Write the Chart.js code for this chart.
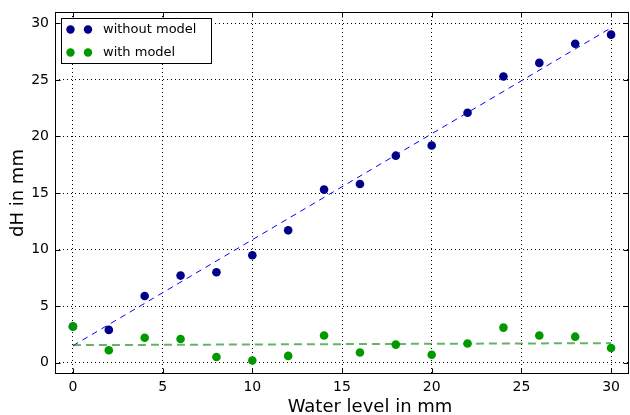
<!DOCTYPE html>
<html>
<head>
<meta charset="utf-8">
<script src="https://cdn.jsdelivr.net/npm/chart.js@4/dist/chart.umd.min.js"></script>
<style>
  html, body { margin: 0; padding: 0; background: #fff; }
  #wrap { width: 630px; height: 415px; }
</style>
</head>
<body>
<div id="wrap"><canvas id="c" width="630" height="415"></canvas></div>
<script>
// water level (mm)
var waterLevel = [0, 2, 4, 6, 8, 10, 12, 14, 16, 18, 20, 22, 24, 26, 28, 30];
// dH in mm
var withoutModel = [3.2, 2.9, 5.9, 7.7, 8.0, 9.5, 11.7, 15.3, 15.8, 18.3, 19.2, 22.1, 25.3, 26.5, 28.2, 29.0];
var withModel = [3.2, 1.1, 2.2, 2.1, 0.5, 0.2, 0.6, 2.4, 0.9, 1.6, 0.7, 1.7, 3.1, 2.4, 2.3, 1.3];
// fitted lines, read at the two ends
var fitX = [0, 30];
var fitWithout = [1.5, 29.6];
var fitWith = [1.55, 1.73];

var xTicks = [0, 5, 10, 15, 20, 25, 30];
var yTicks = [0, 5, 10, 15, 20, 25, 30];

var legendLabels = ['without model', 'with model'];
var xTitle = 'Water level in mm';

var navy = '#000088';
var green = '#009a00';

function pts(xs, ys){
	var out = [];
	for(var i=0;i<xs.length;i++){
		out.push({x:xs[i], y:ys[i]});
	}
	return out;
}

// frame, inward ticks, x title and the legend box
var framePlugin = {
	id:'frame',
	afterDatasetsDraw:function(chart){
		var ctx = chart.ctx, a = chart.chartArea;
		var xs = chart.scales.x, ys = chart.scales.y;
		var L = Math.round(a.left)+0.5, R = Math.round(a.right)-0.5;
		var T = Math.round(a.top)+0.5, B = Math.round(a.bottom)-0.5;
		ctx.save();
		ctx.strokeStyle = '#000';
		ctx.lineWidth = 1;
		ctx.setLineDash([]);
		ctx.beginPath();
		xTicks.forEach(function(v){
			var px = Math.round(xs.getPixelForValue(v))+0.5;
			ctx.moveTo(px,T); ctx.lineTo(px,T+5);
			ctx.moveTo(px,B); ctx.lineTo(px,B-5);
		});
		yTicks.forEach(function(v){
			var py = Math.round(ys.getPixelForValue(v))+0.5;
			ctx.moveTo(L,py); ctx.lineTo(L+5,py);
			ctx.moveTo(R,py); ctx.lineTo(R-5,py);
		});
		ctx.stroke();
		ctx.strokeRect(L,T,R-L,B-T);

		// x axis title (sits a bit right of centre in the original)
		ctx.fillStyle = '#000';
		ctx.font = '18px "DejaVu Sans"';
		ctx.textAlign = 'center';
		ctx.textBaseline = 'alphabetic';
		ctx.fillText(xTitle, 370, 412);

		// legend
		var bx = 61.5, by = 18.5, bw = 150, bh = 45;
		ctx.fillStyle = '#fff';
		ctx.fillRect(bx,by,bw,bh);
		ctx.strokeRect(bx,by,bw,bh);
		var cols = [navy, green];
		ctx.font = '13px "DejaVu Sans"';
		ctx.textAlign = 'left';
		ctx.textBaseline = 'middle';
		for(var i=0;i<2;i++){
			var yy = 29.5 + i*23;
			ctx.fillStyle = cols[i];
			[70.5, 88].forEach(function(mx){
				ctx.beginPath();
				ctx.arc(mx,yy,4.2,0,Math.PI*2);
				ctx.fill();
			});
			ctx.fillStyle = '#000';
			ctx.fillText(legendLabels[i],103,yy);
		}
		ctx.restore();
	}
};

var chart = new Chart(document.getElementById('c').getContext('2d'),{
	type:'scatter',
	data:{
		datasets:[{
			label:legendLabels[1],
			data:pts(waterLevel,withModel),
			backgroundColor:green,
			borderWidth:0,
			pointRadius:4.3,
			order:0
		},
		{
			label:legendLabels[0],
			data:pts(waterLevel,withoutModel),
			backgroundColor:navy,
			borderWidth:0,
			pointRadius:4.3,
			order:1
		},
		{
			label:'fit with',
			type:'line',
			data:pts(fitX,fitWith),
			borderColor:'rgba(0,128,0,0.6)',
			borderWidth:2,
			borderDash:[8,5],
			pointRadius:0,
			fill:false,
			order:2
		},
		{
			label:'fit without',
			type:'line',
			data:pts(fitX,fitWithout),
			borderColor:'#0000ff',
			borderWidth:1,
			borderDash:[6,5],
			pointRadius:0,
			fill:false,
			order:3
		}]
	},
	options:{
		responsive:false,
		animation:false,
		layout:{autoPadding:false, padding:{top:12, right:1, left:0, bottom:0}},
		plugins:{
			legend:{display:false},
			tooltip:{enabled:false}
		},
		scales:{
			x:{
				type:'linear',
				min:-1,
				max:31,
				afterBuildTicks:function(scale){
					scale.ticks = xTicks.map(function(v){return {value:v};});
				},
				afterFit:function(scale){
					scale.height = 41;
					scale.paddingLeft = 0;
					scale.paddingRight = 0;
				},
				grid:{color:'#000', lineWidth:1, drawTicks:false},
				border:{display:false, dash:[1,3]},
				ticks:{color:'#000', padding:5, font:{family:'DejaVu Sans', size:14}, maxRotation:0}
			},
			y:{
				type:'linear',
				min:-1,
				max:31,
				afterBuildTicks:function(scale){
					scale.ticks = yTicks.map(function(v){return {value:v};});
				},
				afterFit:function(scale){
					scale.width = 55;
					scale.paddingTop = 0;
					scale.paddingBottom = 0;
				},
				grid:{color:'#000', lineWidth:1, drawTicks:false},
				border:{display:false, dash:[1,3]},
				ticks:{color:'#000', padding:6, font:{family:'DejaVu Sans', size:14}},
				title:{display:true, text:'dH in mm', color:'#000', font:{family:'DejaVu Sans', size:18}, padding:{top:8,bottom:0}}
			}
		}
	},
	plugins:[framePlugin]
});
</script>
</body>
</html>
